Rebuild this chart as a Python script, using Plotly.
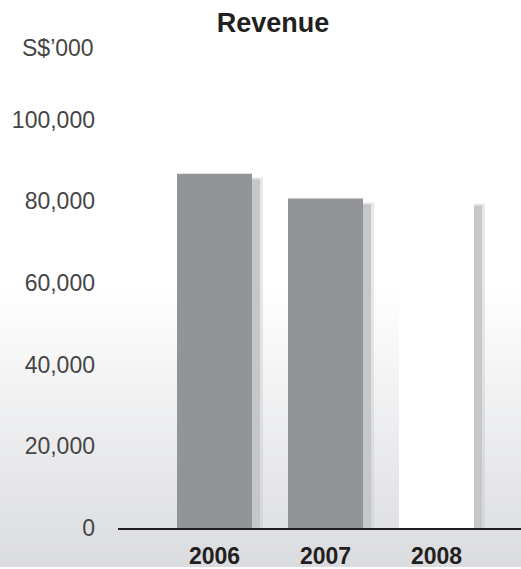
import plotly.graph_objects as go

years = ["2006", "2007", "2008"]
revenue = [86800, 80700, 80400]
bar_colors = ["#939497", "#939497", "#ffffff"]
y_ticks = [0, 20000, 40000, 60000, 80000, 100000]
y_tick_labels = ["0", "20,000", "40,000", "60,000", "80,000", "100,000"]

W, H = 521, 569
L, R, T, B = 118, 0, 60, 39
PW, PH = W - L - R, H - T - B
PX_PER_UNIT = 82 / 20000  # pixel per revenue unit
ymax = PH / PX_PER_UNIT
step = 111.0
bw = 75 / step
x0 = -96.5 / step
x1 = (PW - 96.5) / step

fig = go.Figure()

# shadows (soft, two layers)
sh_drop = 4 / PX_PER_UNIT
fig.add_trace(go.Bar(x=years, y=[v - sh_drop for v in revenue], width=12 / step,
                     offset=bw / 2 - 1 / step, marker=dict(color="rgba(200,201,203,0.45)", line_width=0),
                     hoverinfo="skip", showlegend=False))
fig.add_trace(go.Bar(x=years, y=[v - sh_drop - 400 for v in revenue], width=8 / step,
                     offset=bw / 2, marker=dict(color="#c6c7c9", line_width=0),
                     hoverinfo="skip", showlegend=False))
fig.add_trace(go.Bar(x=years, y=revenue, width=bw, offset=-bw / 2,
                     marker=dict(color=bar_colors, line_width=0), showlegend=False))

# background gradient via stacked strips (paper coords)
def py(p):
    return (H - B - p) / PH

def px(p):
    return (p - L) / PW

shapes = [dict(type="rect", xref="paper", yref="paper", x0=px(0), x1=px(W), y0=py(H), y1=py(0),
               fillcolor="#ffffff", line_width=0, layer="below")]
start, end = 290, H
n = 50
c0 = (255, 255, 255)
c1 = (219, 220, 223)
for i in range(n):
    p = start + (end - start) * i / n
    t = (i + 1) / n
    col = tuple(round(c0[k] + (c1[k] - c0[k]) * t) for k in range(3))
    shapes.append(dict(type="rect", xref="paper", yref="paper", x0=px(0), x1=px(W),
                       y0=py(H), y1=py(p), fillcolor="rgb(%d,%d,%d)" % col,
                       line_width=0, layer="below"))

fig.update_layout(
    width=W, height=H,
    margin=dict(l=L, r=R, t=T, b=B),
    paper_bgcolor="rgba(0,0,0,0)", plot_bgcolor="rgba(0,0,0,0)",
    barmode="overlay",
    shapes=shapes,
    font=dict(family="Liberation Sans, Arial, sans-serif"),
    title=dict(text="<b>Revenue</b>", x=273 / W, xanchor="center",
               y=1 - 23 / H, yanchor="middle", font=dict(size=27, color="#231f20")),
    xaxis=dict(type="category", range=[x0, x1], showline=True, linecolor="#231f20", linewidth=2,
               showgrid=False, zeroline=False, ticks="", ticklabelstandoff=6,
               tickfont=dict(size=23, color="#231f20", family="Liberation Sans, Arial"),
               tickvals=years, ticktext=["<b>%s</b>" % y for y in years]),
    yaxis=dict(range=[0, ymax], showgrid=False, zeroline=False, showline=False, ticks="",
               tickvals=y_ticks, ticktext=y_tick_labels, ticklabelstandoff=22,
               tickfont=dict(size=23, color="#454545")),
    annotations=[dict(text="S$\u2019000", xref="paper", yref="paper", x=px(96), y=py(48),
                      xanchor="right", yanchor="middle", showarrow=False,
                      font=dict(size=23, color="#454545"))],
)

fig.write_html("out.html", config={"displayModeBar": False},
               post_script="document.body.style.margin='0';document.body.style.overflow='hidden';")
